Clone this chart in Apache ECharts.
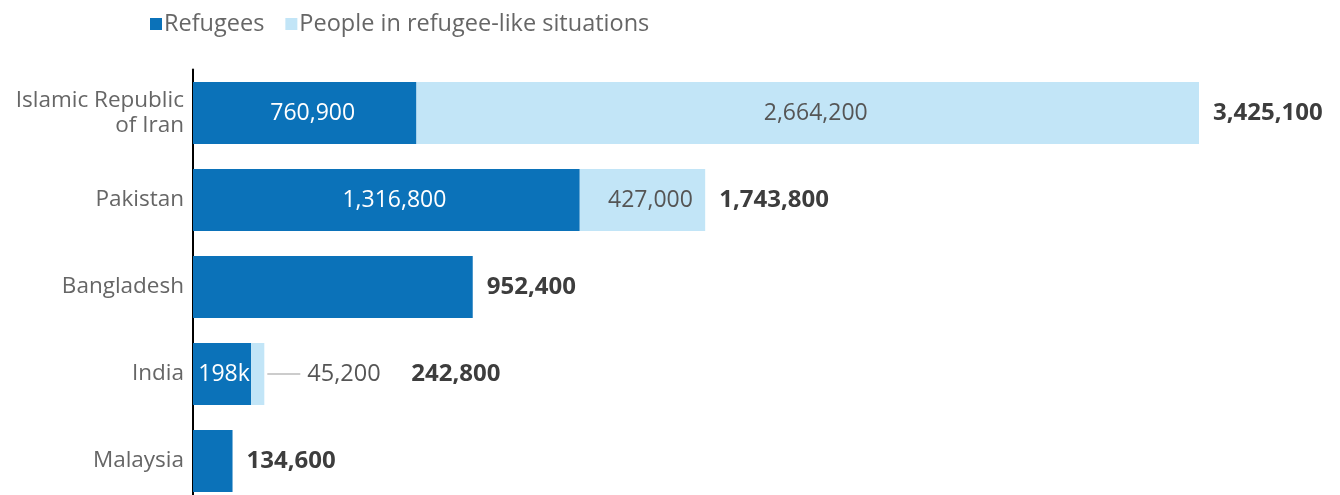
<!DOCTYPE html>
<html>
<head>
<meta charset="utf-8">
<script src="https://cdn.jsdelivr.net/npm/echarts@6/dist/echarts.min.js"></script>
<style>html,body{margin:0;padding:0;background:#fff;}#c{width:1340px;height:495px;}</style>
</head>
<body>
<div id="c"></div>
<script>
const categories = ['Islamic Republic\nof Iran', 'Pakistan', 'Bangladesh', 'India', 'Malaysia'];
const refugees = [760900, 1316800, 952400, 197600, 134600];
const refugeeLike = [2664200, 427000, 0, 45200, 0];
const refugeeLabels = ['760,900', '1,316,800', '', '198k', ''];
const totals = [3425100, 1743800, 952400, 242800, 134600];

const FONT = 'Open Sans';
const fmt = v => v.toLocaleString('en-US');

const chart = echarts.init(document.getElementById('c'));
const cats = categories.slice().reverse();
const rev = a => a.slice().reverse();
const refR = rev(refugees), likeR = rev(refugeeLike), refLabR = rev(refugeeLabels), totR = rev(totals);

chart.setOption({
  animation: false,
  textStyle: { fontFamily: FONT },
  legend: {
    left: 145, top: 7,
    icon: 'rect', itemWidth: 12, itemHeight: 12, itemGap: 21,
    textStyle: { fontSize: 23.5, color: '#666', fontFamily: FONT, padding: [0, 0, 0, -3] },
    data: ['Refugees', 'People in refugee-like situations']
  },
  grid: { left: 193, top: 69.5, width: 1006, height: 435, outerBoundsMode: 'none' },
  xAxis: { type: 'value', min: 0, max: 3425100, show: false },
  yAxis: {
    type: 'category', data: cats,
    axisLine: { show: true, lineStyle: { color: '#000', width: 2 } },
    axisTick: { show: false },
    axisLabel: { fontSize: 22.5, color: '#666', lineHeight: 25, margin: 9, fontFamily: FONT }
  },
  series: [
    {
      name: 'Refugees', type: 'bar', stack: 's', barWidth: 62,
      itemStyle: { color: '#0B72B9' },
      data: refR.map((v, i) => ({ value: v, label: { show: !!refLabR[i], formatter: refLabR[i],
        offset: cats[i] === 'India' ? [2, 0] : [8, 0] } })),
      label: { position: 'inside', color: '#fff', fontSize: 23, fontFamily: FONT }
    },
    {
      name: 'People in refugee-like situations', type: 'bar', stack: 's', barWidth: 62,
      itemStyle: { color: '#C2E5F7' },
      data: likeR.map((v, i) => {
        const cat = cats[i];
        if (v === 0) return { value: v, label: { show: false } };
        if (cat === 'India') {
          return { value: v, label: { show: true, position: 'right', distance: 3,
            formatter: '{l|}{t|' + fmt(v) + '}',
            rich: {
              l: { width: 33, height: 1, backgroundColor: '#999', verticalAlign: 'middle' },
              t: { fontSize: 23.5, color: '#555', fontFamily: FONT, padding: [0, 0, 0, 7] }
            } } };
        }
        return { value: v, label: { show: true, position: 'inside', offset: [8, 0], formatter: fmt(v) } };
      }),
      label: { color: '#555', fontSize: 23, fontFamily: FONT }
    },
    {
      name: 'Total', type: 'bar', stack: 's', barWidth: 62,
      itemStyle: { color: 'transparent' },
      data: totR.map((v, i) => ({ value: 0, label: { show: true, formatter: fmt(v),
        offset: cats[i] === 'India' ? [133, 0] : [0, 0] } })),
      label: { position: 'right', distance: 14, color: '#3d3d3d', fontSize: 24, fontWeight: 'bold', fontFamily: FONT }
    }
  ]
});
</script>
</body>
</html>
